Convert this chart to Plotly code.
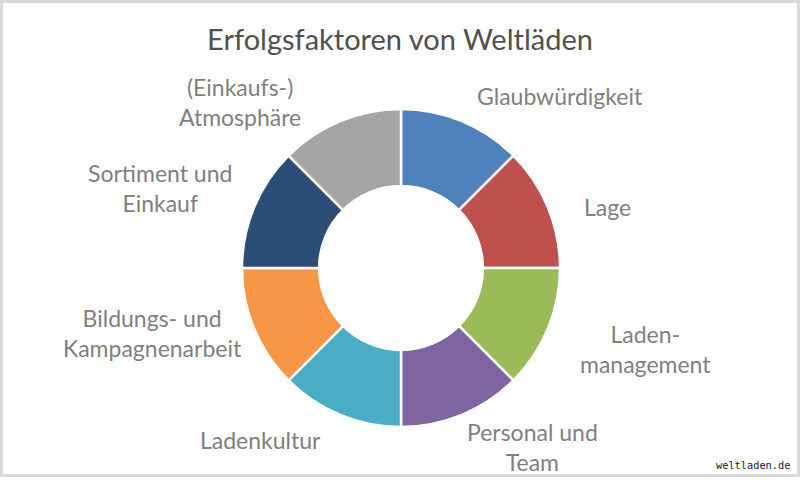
import plotly.graph_objects as go

# Data
categories = [
    "Glaubwürdigkeit",
    "Lage",
    "Laden-<br>management",
    "Personal und<br>Team",
    "Ladenkultur",
    "Bildungs- und<br>Kampagnenarbeit",
    "Sortiment und<br>Einkauf",
    "(Einkaufs-)<br>Atmosphäre",
]
values = [1, 1, 1, 1, 1, 1, 1, 1]
colors = ["#4F81BD", "#C0504D", "#9BBB59", "#8064A2",
          "#4BACC6", "#F79646", "#2C4D75", "#A5A5A5"]

W, H = 800, 480
cx, cy, R = 401, 268, 159

# label centres in pixels (layout)
label_pos = [(560, 96), (607, 207), (645, 349), (532, 447),
             (260, 440), (152, 333), (160, 188), (240, 102)]

fig = go.Figure()
fig.add_trace(go.Pie(
    labels=categories,
    values=values,
    sort=False,
    direction="clockwise",
    rotation=0,
    hole=0.515,
    marker=dict(colors=colors, line=dict(color="white", width=2.5)),
    textinfo="none",
    hoverinfo="label",
    showlegend=False,
    domain=dict(x=[(cx - R) / W, (cx + R) / W],
                y=[(H - cy - R) / H, (H - cy + R) / H]),
))

annotations = []
for text, (px, py) in zip(categories, label_pos):
    annotations.append(dict(
        text=text, x=px / W, y=1 - py / H, xref="paper", yref="paper",
        showarrow=False, xanchor="center", yanchor="middle", align="center",
        font=dict(family="Lato", size=23, color="#7F7F7F"),
    ))

annotations.append(dict(
    text="weltladen.de", x=792 / W, y=1 - 465 / H, xref="paper", yref="paper",
    showarrow=False, xanchor="right", yanchor="middle",
    font=dict(family="DejaVu Sans Mono", size=10.3, color="#222222"),
))

fig.update_layout(
    width=W, height=H,
    margin=dict(l=0, r=0, t=0, b=0),
    paper_bgcolor="white",
    plot_bgcolor="white",
    title=dict(text="Erfolgsfaktoren von Weltläden", x=0.5, xanchor="center",
               y=1 - 40 / H, yanchor="middle",
               font=dict(family="Lato", size=29, color="#505050")),
    annotations=annotations,
    shapes=[dict(type="rect", xref="paper", yref="paper",
                 x0=1.5 / W, x1=798.5 / W, y0=1 - 475.5 / H, y1=1 - 1.5 / H,
                 line=dict(color="#D9D9D9", width=3))],
)

fig.write_html("out.html",
               config={"displayModeBar": False},
               post_script="document.body.style.margin='0';document.body.style.overflow='hidden';")
